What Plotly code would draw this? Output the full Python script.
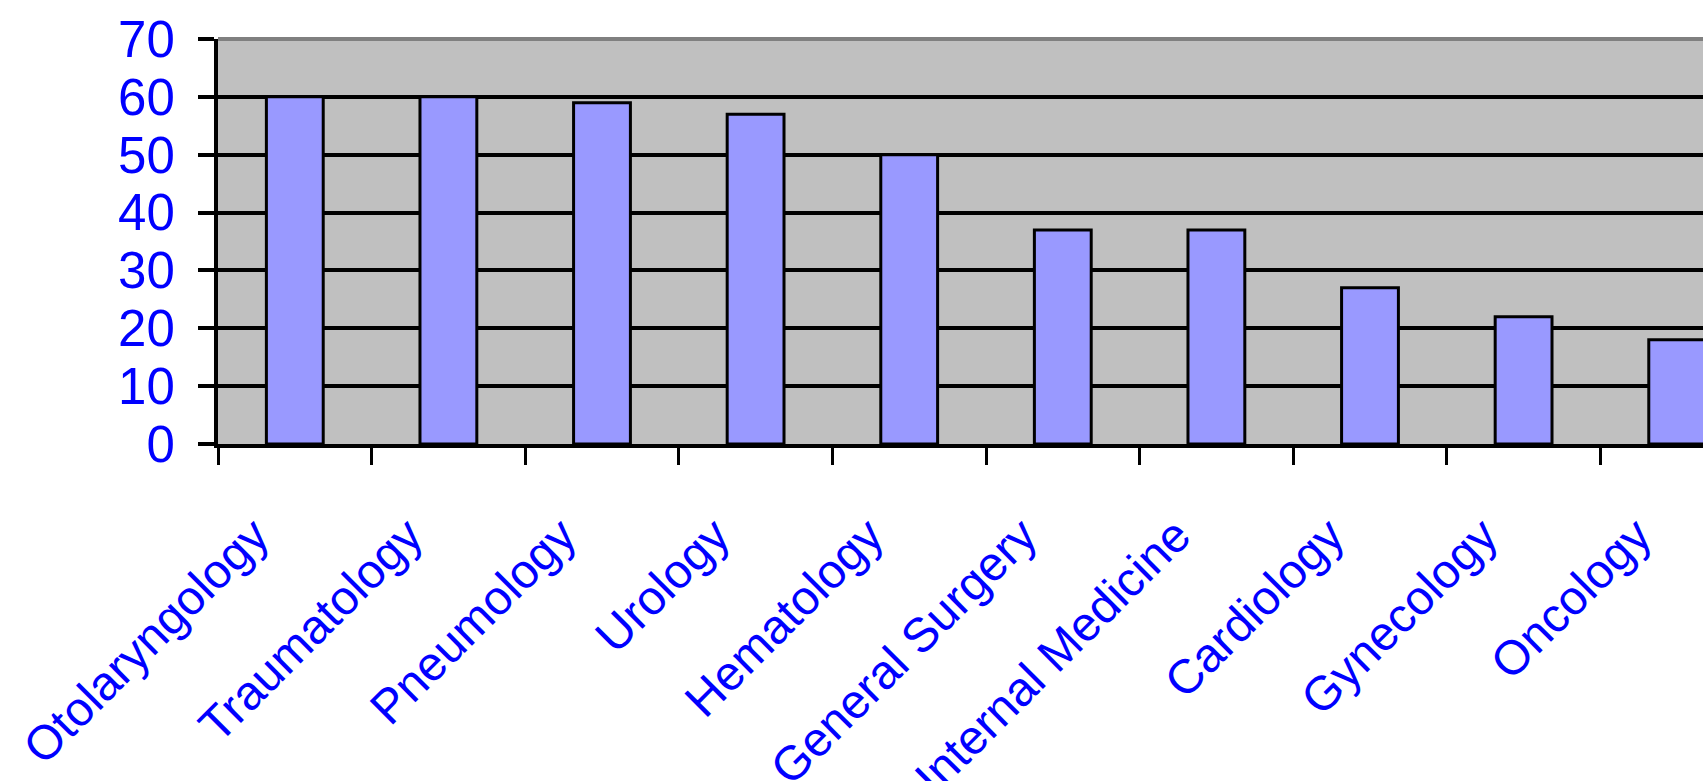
import plotly.graph_objects as go

categories = ["Otolaryngology", "Traumatology", "Pneumology", "Urology", "Hematology",
              "General Surgery", "Internal Medicine", "Cardiology", "Gynecology", "Oncology"]
values = [60, 60, 59, 57, 50, 37, 37, 27, 22, 18]
y_ticks = [0, 10, 20, 30, 40, 50, 60, 70]

FONT = "Liberation Sans, Arial, sans-serif"
BLUE = "#0000FF"

fig = go.Figure(go.Bar(
    x=categories, y=values,
    width=0.37,
    marker=dict(color="#9999FF", line=dict(color="#000000", width=3)),
))

fig.update_layout(
    width=1703, height=781,
    margin=dict(l=218, r=0, t=39, b=337, autoexpand=False),
    paper_bgcolor="#FFFFFF",
    plot_bgcolor="#C0C0C0",
    showlegend=False,
    bargap=0.63,
    font=dict(family=FONT, size=48, color=BLUE),
    shapes=[dict(type="line", xref="paper", yref="paper", x0=0, x1=1, y0=1, y1=1,
                 line=dict(color="#808080", width=4), layer="above")],
)

fig.update_xaxes(
    type="category",
    range=[-0.5, 9.168],
    automargin=False,
    showline=True, linecolor="#000000", linewidth=4,
    ticks="outside", tickson="boundaries", ticklen=17, tickwidth=3, tickcolor="#000000",
    showgrid=False,
    tickangle=-45,
    tickfont=dict(family=FONT, size=48, color=BLUE),
    ticklabelstandoff=40,
    ticklabelshift=-40,
)

fig.update_yaxes(
    range=[0, 70],
    automargin=False,
    tickvals=y_ticks,
    ticktext=[str(v) for v in y_ticks],
    showline=True, linecolor="#000000", linewidth=4,
    ticks="outside", ticklen=16, tickwidth=4, tickcolor="#000000",
    showgrid=True, gridcolor="#000000", gridwidth=4,
    zeroline=False,
    tickfont=dict(family=FONT, size=51, color=BLUE),
    ticklabelstandoff=13,
)

fig.write_html("out.html")
